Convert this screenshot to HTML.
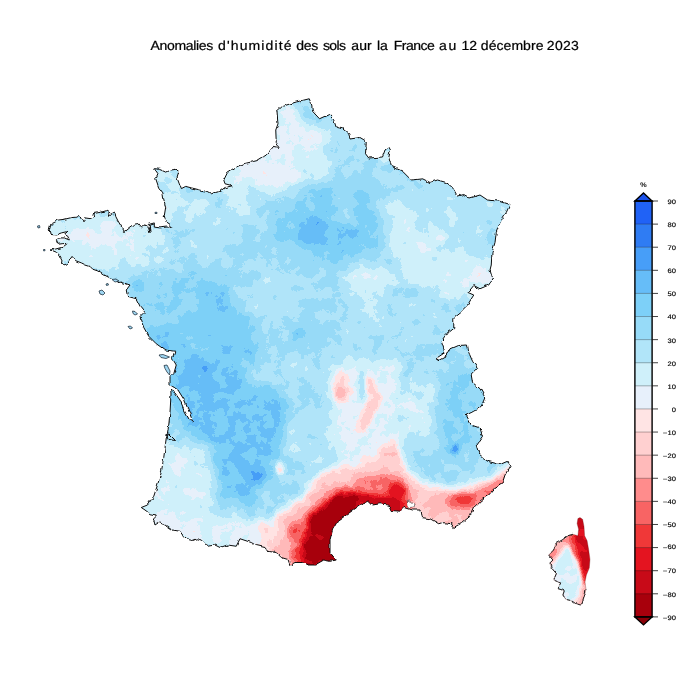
<!DOCTYPE html>
<html lang="fr"><head><meta charset="utf-8"><title>Anomalies d'humidité des sols</title>
<style>
html,body{margin:0;padding:0;background:#fff;}
body{width:700px;height:700px;overflow:hidden;font-family:"Liberation Sans",sans-serif;}
svg{display:block;}
text{text-rendering:geometricPrecision;}
.tk{font-family:"Liberation Sans",sans-serif;font-size:6.5px;fill:#000;stroke:#000;stroke-width:0.15px;}
.ttl{font-family:"Liberation Sans",sans-serif;font-size:13.1px;fill:#000;stroke:#000;stroke-width:0.22px;}
</style></head><body>
<svg width="700" height="700" viewBox="0 0 700 700">
<defs>
<filter id="b1_6" x="-60%" y="-60%" width="220%" height="220%" color-interpolation-filters="sRGB"><feGaussianBlur stdDeviation="1.6"/></filter>
<filter id="b1_8" x="-60%" y="-60%" width="220%" height="220%" color-interpolation-filters="sRGB"><feGaussianBlur stdDeviation="1.8"/></filter>
<filter id="b2" x="-60%" y="-60%" width="220%" height="220%" color-interpolation-filters="sRGB"><feGaussianBlur stdDeviation="2"/></filter>
<filter id="b2_2" x="-60%" y="-60%" width="220%" height="220%" color-interpolation-filters="sRGB"><feGaussianBlur stdDeviation="2.2"/></filter>
<filter id="b2_5" x="-60%" y="-60%" width="220%" height="220%" color-interpolation-filters="sRGB"><feGaussianBlur stdDeviation="2.5"/></filter>
<filter id="b3" x="-60%" y="-60%" width="220%" height="220%" color-interpolation-filters="sRGB"><feGaussianBlur stdDeviation="3"/></filter>
<filter id="b3_5" x="-60%" y="-60%" width="220%" height="220%" color-interpolation-filters="sRGB"><feGaussianBlur stdDeviation="3.5"/></filter>
<filter id="b4" x="-60%" y="-60%" width="220%" height="220%" color-interpolation-filters="sRGB"><feGaussianBlur stdDeviation="4"/></filter>
<filter id="b5" x="-60%" y="-60%" width="220%" height="220%" color-interpolation-filters="sRGB"><feGaussianBlur stdDeviation="5"/></filter>
<filter id="b6" x="-60%" y="-60%" width="220%" height="220%" color-interpolation-filters="sRGB"><feGaussianBlur stdDeviation="6"/></filter>
<filter id="b7" x="-60%" y="-60%" width="220%" height="220%" color-interpolation-filters="sRGB"><feGaussianBlur stdDeviation="7"/></filter>
<filter id="b9" x="-60%" y="-60%" width="220%" height="220%" color-interpolation-filters="sRGB"><feGaussianBlur stdDeviation="9"/></filter>
<filter id="b10" x="-60%" y="-60%" width="220%" height="220%" color-interpolation-filters="sRGB"><feGaussianBlur stdDeviation="10"/></filter>
<filter id="b11" x="-60%" y="-60%" width="220%" height="220%" color-interpolation-filters="sRGB"><feGaussianBlur stdDeviation="11"/></filter>
<filter id="post" filterUnits="userSpaceOnUse" x="0" y="0" width="700" height="700" color-interpolation-filters="sRGB">
<feTurbulence type="fractalNoise" baseFrequency="0.07" numOctaves="3" seed="7" result="n"/>
<feColorMatrix in="n" type="matrix" values="1 0 0 0 0  1 0 0 0 0  1 0 0 0 0  0 0 0 0 1" result="ng"/>
<feComposite in="SourceGraphic" in2="ng" operator="arithmetic" k1="0" k2="1" k3="0.14" k4="-0.07" result="f"/>
<feComponentTransfer in="f">
<feFuncR type="discrete" tableValues="0.6588 0.7843 0.8941 0.9412 0.9725 1.0000 1.0000 1.0000 1.0000 0.9059 0.8118 0.6941 0.5922 0.4902 0.4000 0.2784 0.1843 0.1255"/>
<feFuncG type="discrete" tableValues="0.0000 0.0392 0.0784 0.2196 0.3922 0.5490 0.7294 0.8157 0.8941 0.9412 0.9412 0.8980 0.8588 0.8157 0.7412 0.6196 0.4863 0.3843"/>
<feFuncB type="discrete" tableValues="0.0471 0.0941 0.1255 0.2196 0.3922 0.5490 0.7294 0.8157 0.8941 0.9843 0.9804 0.9765 0.9725 0.9725 0.9725 0.9725 0.9529 0.9647"/>
</feComponentTransfer>
</filter>
<filter id="jag" filterUnits="userSpaceOnUse" x="0" y="0" width="700" height="700" color-interpolation-filters="sRGB">
<feTurbulence type="fractalNoise" baseFrequency="0.16" numOctaves="2" seed="11" result="t"/>
<feDisplacementMap in="SourceGraphic" in2="t" scale="3.6" xChannelSelector="R" yChannelSelector="G"/>
</filter>
<clipPath id="fr"><path d="M309.25 98.75 L311.75 105.00 L312.50 111.25 L319.50 118.75 L328.75 114.50 L333.75 120.00 L336.25 127.50 L342.50 128.75 L348.75 133.75 L350.00 139.00 L360.00 137.50 L366.25 141.25 L365.50 153.75 L368.75 158.00 L382.50 157.00 L385.00 150.00 L388.75 147.00 L390.50 150.00 L388.75 157.50 L391.25 166.25 L402.50 171.25 L411.25 180.00 L422.50 178.75 L430.00 182.50 L437.50 180.00 L446.25 182.50 L452.50 187.50 L457.50 196.25 L463.75 194.50 L470.00 198.00 L480.00 195.00 L487.50 200.00 L500.00 201.25 L510.00 204.50 L506.25 212.50 L500.00 222.50 L496.25 232.50 L495.00 242.50 L492.00 252.50 L491.25 265.00 L490.00 270.00 L492.50 278.75 L488.75 285.00 L480.00 288.75 L473.75 285.50 L468.00 292.50 L473.75 295.00 L467.50 305.00 L460.00 312.50 L453.75 317.50 L453.75 327.50 L447.50 332.50 L441.25 341.25 L445.00 352.50 L437.50 357.50 L438.00 360.75 L446.25 356.25 L450.00 348.75 L457.50 345.50 L467.50 345.00 L468.75 352.50 L472.50 361.25 L477.50 368.75 L471.25 375.00 L472.50 382.50 L480.00 388.75 L485.00 397.50 L481.25 406.25 L473.75 411.25 L466.25 415.00 L471.25 425.00 L480.00 428.00 L482.50 436.25 L476.25 445.00 L478.75 453.75 L487.50 461.25 L500.00 464.50 L507.50 461.25 L510.00 466.25 L505.00 475.00 L502.50 482.50 L495.00 487.50 L488.75 495.00 L481.25 500.00 L473.75 507.50 L470.00 516.25 L462.50 522.50 L453.75 527.50 L451.25 523.75 L442.50 522.50 L438.75 523.75 L430.00 518.75 L421.25 517.50 L420.00 510.00 L412.50 510.00 L405.00 507.50 L401.25 511.25 L391.25 510.50 L388.75 505.00 L380.00 503.75 L372.50 505.00 L368.75 501.25 L363.75 502.50 L355.00 508.75 L346.25 515.00 L337.50 521.25 L332.50 530.00 L330.00 540.00 L330.00 552.50 L336.25 560.00 L330.00 561.25 L323.75 560.00 L315.00 565.00 L307.50 565.00 L302.50 562.50 L295.00 562.50 L290.00 565.00 L288.00 559.50 L281.25 557.50 L276.25 552.50 L267.50 551.25 L265.00 547.50 L256.25 545.50 L251.25 542.50 L240.00 538.75 L236.25 546.25 L227.50 545.00 L220.00 547.50 L215.00 545.00 L207.50 546.25 L201.25 540.00 L196.25 538.75 L190.00 541.25 L182.50 535.00 L180.00 531.25 L172.50 530.00 L165.00 525.00 L158.75 522.50 L155.00 525.00 L153.75 520.00 L156.25 515.00 L150.00 513.75 L145.00 510.00 L141.25 507.50 L147.50 505.00 L153.75 496.25 L157.50 485.00 L161.25 472.50 L163.75 457.50 L165.50 443.75 L166.25 438.00 L168.75 433.75 L175.50 440.50 L168.00 439.50 L167.00 436.00 L168.75 425.00 L170.00 412.50 L171.00 395.00 L170.75 390.00 L175.00 393.00 L180.00 400.00 L185.00 412.00 L189.50 420.00 L192.50 422.50 L191.25 417.50 L188.75 411.00 L184.25 400.00 L178.00 390.00 L172.00 386.00 L170.00 385.00 L170.00 377.50 L173.75 373.75 L176.25 365.00 L172.50 358.75 L175.00 351.25 L165.00 350.00 L156.25 343.75 L148.75 336.25 L143.75 327.50 L140.00 317.50 L145.00 312.50 L140.00 306.25 L136.25 298.75 L127.50 296.25 L126.25 290.00 L130.00 285.00 L121.40 282.10 L118.00 282.50 L115.70 279.30 L110.00 277.90 L104.30 275.00 L101.40 272.90 L97.10 270.70 L92.90 269.30 L90.00 266.40 L85.70 265.00 L81.40 262.90 L75.70 260.70 L72.10 256.40 L70.00 259.30 L67.90 263.60 L63.60 265.00 L61.40 263.60 L62.10 260.00 L60.00 255.70 L57.10 252.90 L50.00 250.00 L55.70 249.00 L62.90 247.10 L67.10 243.60 L62.90 243.60 L57.90 244.30 L56.40 240.70 L58.60 237.90 L64.30 237.90 L69.30 240.00 L67.90 236.40 L64.30 234.30 L67.90 231.40 L61.40 232.90 L55.70 235.00 L50.00 234.30 L49.30 229.30 L50.70 224.30 L55.00 222.10 L58.60 220.00 L64.30 219.30 L71.40 217.60 L77.10 217.10 L79.30 215.00 L81.40 219.30 L83.60 221.40 L85.00 217.90 L90.00 218.60 L93.60 217.10 L92.90 213.60 L97.10 212.90 L101.40 212.10 L106.40 210.70 L110.00 212.90 L109.30 216.40 L112.90 212.90 L115.00 212.10 L115.70 216.40 L117.90 220.70 L120.00 224.30 L124.30 231.40 L128.60 227.90 L133.60 224.30 L137.90 223.60 L141.40 227.90 L144.30 225.00 L147.90 225.70 L150.00 232.90 L149.30 224.30 L154.30 222.90 L154.30 227.10 L160.00 227.90 L167.10 227.10 L172.10 227.10 L170.00 224.30 L165.70 221.40 L164.30 215.70 L165.70 207.10 L163.60 198.60 L162.90 192.90 L158.60 187.10 L155.70 178.60 L157.90 173.60 L154.30 168.60 L159.30 169.30 L165.70 172.10 L170.00 170.00 L175.00 169.30 L178.60 172.10 L177.10 177.10 L179.30 182.90 L181.40 188.60 L185.70 186.40 L191.40 187.90 L200.00 190.00 L207.10 191.40 L211.25 193.75 L220.00 191.25 L225.00 187.50 L232.50 185.75 L225.00 183.75 L223.75 180.00 L227.50 172.50 L235.00 167.50 L243.75 163.75 L257.50 160.50 L266.25 155.00 L273.75 146.25 L279.50 147.50 L276.25 142.50 L275.75 130.00 L278.00 123.75 L277.00 111.25 L282.50 106.25 L296.25 102.00 Z"/></clipPath>
<clipPath id="co"><path d="M577.90 518.60 L580.00 517.60 L582.60 519.30 L584.00 526.40 L584.60 535.70 L587.10 540.70 L588.60 549.30 L590.00 559.30 L589.30 567.90 L586.40 575.00 L585.00 582.10 L586.00 589.30 L584.30 596.40 L582.10 603.60 L580.70 605.00 L575.70 603.60 L571.40 600.70 L565.70 599.30 L562.90 595.00 L564.30 590.70 L557.90 588.60 L560.70 582.90 L553.60 580.00 L556.40 573.60 L551.40 567.90 L550.00 562.90 L552.90 560.00 L548.60 555.00 L553.60 550.00 L555.70 543.60 L562.10 540.00 L567.90 535.70 L572.90 534.30 L577.90 535.70 L578.60 529.30 L577.10 523.60 Z"/></clipPath>
</defs>
<rect width="700" height="700" fill="#fff"/>
<g opacity="0.999"><text transform="translate(150.6 50.1) scale(1.07 1)" x="0" y="0" class="ttl" textLength="58.6" lengthAdjust="spacing">Anomalies</text><text transform="translate(218.1 50.1) scale(1.07 1)" x="0" y="0" class="ttl" textLength="68.6" lengthAdjust="spacing">d'humidité</text><text transform="translate(296.2 50.1) scale(1.07 1)" x="0" y="0" class="ttl" textLength="20.5" lengthAdjust="spacing">des</text><text transform="translate(323.0 50.1) scale(1.07 1)" x="0" y="0" class="ttl" textLength="21.5" lengthAdjust="spacing">sols</text><text transform="translate(351.3 50.1) scale(1.07 1)" x="0" y="0" class="ttl" textLength="19.1" lengthAdjust="spacing">aur</text><text transform="translate(377.0 50.1) scale(1.07 1)" x="0" y="0" class="ttl" textLength="10.1" lengthAdjust="spacing">la</text><text transform="translate(393.7 50.1) scale(1.07 1)" x="0" y="0" class="ttl" textLength="38.5" lengthAdjust="spacing">France</text><text transform="translate(439.0 50.1) scale(1.07 1)" x="0" y="0" class="ttl" textLength="16.2" lengthAdjust="spacing">au</text><text transform="translate(461.5 50.1) scale(1.07 1)" x="0" y="0" class="ttl" textLength="14.6" lengthAdjust="spacing">12</text><text transform="translate(480.8 50.1) scale(1.07 1)" x="0" y="0" class="ttl" textLength="58.6" lengthAdjust="spacing">décembre</text><text transform="translate(546.8 50.1) scale(1.07 1)" x="0" y="0" class="ttl" textLength="30.0" lengthAdjust="spacing">2023</text></g>
<g filter="url(#jag)">
<g clip-path="url(#fr)"><g filter="url(#post)">
<rect x="0" y="0" width="700" height="700" fill="rgb(171,171,171)"/>
<path d="M268.00 100.00 L292.00 100.00 L304.00 120.00 L337.00 132.00 L345.00 160.00 L327.00 176.00 L300.00 186.00 L282.00 197.00 L240.00 197.00 L220.00 192.00 L220.00 166.00 L250.00 150.00 Z" fill="rgb(149,149,149)" filter="url(#b6)"/>
<path d="M277.00 113.00 L288.00 109.00 L300.00 122.00 L313.00 129.00 L326.00 134.00 L331.00 147.00 L320.00 153.00 L307.00 148.00 L296.00 141.00 L290.00 150.00 L296.00 157.00 L298.00 170.00 L292.00 185.00 L275.00 188.00 L250.00 183.00 L232.00 181.00 L226.00 175.00 L235.00 166.00 L257.00 160.00 L270.00 152.00 L274.00 142.00 L275.00 125.00 Z" fill="rgb(137,137,137)" filter="url(#b4)"/>
<ellipse cx="385" cy="158" rx="10" ry="6" fill="rgb(142,142,142)" filter="url(#b3)"/>
<ellipse cx="166" cy="195" rx="14" ry="30" fill="rgb(150,150,150)" filter="url(#b4)"/>
<ellipse cx="238" cy="205" rx="13" ry="18" fill="rgb(150,150,150)" filter="url(#b5)"/>
<ellipse cx="345" cy="150" rx="22" ry="14" fill="rgb(164,164,164)" filter="url(#b5)"/>
<ellipse cx="100" cy="242" rx="62" ry="30" fill="rgb(147,147,147)" filter="url(#b7)"/>
<ellipse cx="105" cy="238" rx="36" ry="10" fill="rgb(137,137,137)" filter="url(#b5)"/>
<ellipse cx="205" cy="240" rx="26" ry="24" fill="rgb(162,162,162)" filter="url(#b6)"/>
<ellipse cx="195" cy="207" rx="22" ry="13" fill="rgb(153,153,153)" filter="url(#b5)"/>
<ellipse cx="150" cy="246" rx="20" ry="13" fill="rgb(152,152,152)" filter="url(#b5)"/>
<ellipse cx="335" cy="226" rx="58" ry="38" fill="rgb(191,191,191)" filter="url(#b10)"/>
<ellipse cx="312" cy="232" rx="16" ry="16" fill="rgb(204,204,204)" filter="url(#b5)"/>
<ellipse cx="342" cy="232" rx="14" ry="9" fill="rgb(201,201,201)" filter="url(#b5)"/>
<ellipse cx="345" cy="208" rx="6" ry="14" fill="rgb(162,162,162)" filter="url(#b4)"/>
<ellipse cx="455" cy="212" rx="58" ry="30" fill="rgb(160,160,160)" filter="url(#b9)"/>
<path d="M385.00 195.00 L405.00 205.00 L432.00 232.00 L462.00 248.00 L494.00 258.00 L496.00 294.00 L470.00 304.00 L440.00 300.00 L412.00 282.00 L392.00 256.00 L384.00 225.00 Z" fill="rgb(147,147,147)" filter="url(#b7)"/>
<ellipse cx="483" cy="275" rx="8" ry="11" fill="rgb(136,136,136)" filter="url(#b4)"/>
<ellipse cx="440" cy="240" rx="5" ry="3" fill="rgb(139,139,139)" filter="url(#b2_5)"/>
<ellipse cx="400" cy="322" rx="72" ry="28" fill="rgb(164,164,164)" filter="url(#b9)"/>
<ellipse cx="367" cy="310" rx="9" ry="11" fill="rgb(152,152,152)" filter="url(#b4)"/>
<ellipse cx="372" cy="280" rx="28" ry="20" fill="rgb(150,150,150)" filter="url(#b6)"/>
<ellipse cx="312" cy="330" rx="18" ry="14" fill="rgb(178,178,178)" filter="url(#b6)"/>
<ellipse cx="300" cy="333" rx="6" ry="6" fill="rgb(194,194,194)" filter="url(#b3)"/>
<ellipse cx="200" cy="345" rx="58" ry="70" fill="rgb(193,193,193)" filter="url(#b11)"/>
<ellipse cx="218" cy="400" rx="31" ry="31" fill="rgb(205,205,205)" filter="url(#b6)"/>
<ellipse cx="196" cy="378" rx="17" ry="22" fill="rgb(204,204,204)" filter="url(#b5)"/>
<ellipse cx="138" cy="288" rx="7" ry="7" fill="rgb(207,207,207)" filter="url(#b3)"/>
<ellipse cx="270" cy="298" rx="30" ry="24" fill="rgb(163,163,163)" filter="url(#b6)"/>
<ellipse cx="292" cy="372" rx="40" ry="13" fill="rgb(163,163,163)" filter="url(#b6)"/>
<ellipse cx="170" cy="300" rx="30" ry="20" fill="rgb(181,181,181)" filter="url(#b7)"/>
<path d="M174.00 388.00 L283.00 388.00 L289.00 433.00 L274.00 464.00 L266.00 484.00 L254.00 505.00 L226.00 500.00 L214.00 476.00 L209.00 447.00 L183.00 433.00 Z" fill="rgb(198,198,198)" filter="url(#b6)"/>
<ellipse cx="252" cy="474" rx="12" ry="9" fill="rgb(212,212,212)" filter="url(#b4)"/>
<path d="M160.00 441.00 L200.00 445.00 L214.00 470.00 L214.00 505.00 L190.00 513.00 L140.00 508.00 L155.00 470.00 Z" fill="rgb(146,146,146)" filter="url(#b5)"/>
<path d="M135.00 508.00 L190.00 512.00 L230.00 516.00 L266.00 520.00 L272.00 552.00 L240.00 548.00 L200.00 548.00 L150.00 530.00 Z" fill="rgb(140,140,140)" filter="url(#b4)"/>
<ellipse cx="175" cy="520" rx="22" ry="6" fill="rgb(133,133,133)" filter="url(#b3)"/>
<ellipse cx="310" cy="440" rx="25" ry="30" fill="rgb(162,162,162)" filter="url(#b6)"/>
<ellipse cx="280" cy="468" rx="3.5" ry="7" fill="rgb(123,123,123)" filter="url(#b2_2)"/>
<path d="M330.00 360.00 L400.00 360.00 L402.00 430.00 L395.00 477.00 L342.00 477.00 L330.00 430.00 Z" fill="rgb(140,140,140)" filter="url(#b7)"/>
<ellipse cx="420" cy="410" rx="20" ry="33" fill="rgb(147,147,147)" filter="url(#b6)"/>
<ellipse cx="342" cy="388" rx="9" ry="17" fill="rgb(109,109,109)" filter="url(#b3)"/>
<ellipse cx="340" cy="392" rx="5" ry="6" fill="rgb(94,94,94)" filter="url(#b2)"/>
<ellipse cx="362" cy="386" rx="3.5" ry="16" fill="rgb(173,173,173)" filter="url(#b2)"/>
<path d="M365.00 376.00 L373.00 378.00 L378.00 392.00 L384.00 399.00 L376.00 412.00 L364.00 434.00 L355.00 432.00 L360.00 414.00 L370.00 402.00 L367.00 392.00 Z" fill="rgb(108,108,108)" filter="url(#b2_2)"/>
<ellipse cx="458" cy="412" rx="21" ry="48" fill="rgb(184,184,184)" filter="url(#b7)"/>
<ellipse cx="455" cy="407" rx="6" ry="7" fill="rgb(205,205,205)" filter="url(#b3)"/>
<ellipse cx="455" cy="449" rx="4" ry="5" fill="rgb(230,230,230)" filter="url(#b2_5)"/>
<ellipse cx="263" cy="536" rx="9" ry="15" fill="rgb(122,122,122)" filter="url(#b4)"/>
<path d="M266.00 554.00 L272.00 523.00 L284.00 508.00 L301.00 499.00 L315.00 478.00 L335.00 466.00 L360.00 466.00 L380.00 452.00 L393.00 438.00 L400.00 455.00 L410.00 475.00 L430.00 486.00 L455.00 488.00 L480.00 483.00 L500.00 471.00 L515.00 462.00 L525.00 480.00 L470.00 545.00 L400.00 530.00 L340.00 540.00 L340.00 580.00 L280.00 580.00 Z" fill="rgb(102,102,102)" filter="url(#b5)"/>
<path d="M389.00 472.00 L391.00 452.00 L394.00 435.00 L397.00 452.00 L401.00 472.00 Z" fill="rgb(105,105,105)" filter="url(#b2)"/>
<path d="M287.00 542.00 L292.00 525.00 L305.00 512.00 L318.00 497.00 L338.00 487.00 L365.00 479.00 L392.00 471.00 L404.00 482.00 L412.00 498.00 L412.00 520.00 L345.00 530.00 L340.00 580.00 L292.00 580.00 Z" fill="rgb(71,71,71)" filter="url(#b3_5)"/>
<path d="M441.00 497.00 L455.00 494.00 L478.00 491.00 L492.00 484.00 L504.00 488.00 L490.00 501.00 L478.00 509.00 L465.00 511.00 L446.00 508.00 Z" fill="rgb(74,74,74)" filter="url(#b3)"/>
<path d="M388.00 484.00 L400.00 480.00 L405.00 490.00 L404.00 507.00 L388.00 507.00 Z" fill="rgb(40,40,40)" filter="url(#b2_5)"/>
<path d="M297.00 556.00 L302.00 538.00 L308.00 515.00 L322.00 503.00 L337.00 494.00 L352.00 491.00 L372.00 495.00 L395.00 497.00 L408.00 501.00 L408.00 516.00 L370.00 512.00 L345.00 530.00 L340.00 580.00 L300.00 580.00 Z" fill="rgb(35,35,35)" filter="url(#b3)"/>
<ellipse cx="464" cy="500" rx="15" ry="5" fill="rgb(50,50,50)" filter="url(#b3)"/>
<path d="M478.00 493.00 L490.00 486.00 L500.00 479.00 L506.00 472.00 L511.00 478.00 L502.00 492.00 L486.00 501.00 Z" fill="rgb(68,68,68)" filter="url(#b2_5)"/>
<path d="M360.00 497.00 L380.00 496.00 L402.00 503.00 L404.00 515.00 L370.00 510.00 Z" fill="rgb(17,17,17)" filter="url(#b2_5)"/>
<path d="M303.00 568.00 L305.00 542.00 L311.00 517.00 L326.00 506.00 L338.00 495.00 L352.00 493.00 L362.00 498.00 L356.00 510.00 L345.00 520.00 L336.00 535.00 L338.00 570.00 L320.00 574.00 Z" fill="rgb(7,7,7)" filter="url(#b2)"/>
<ellipse cx="296" cy="533" rx="8" ry="7" fill="rgb(57,57,57)" filter="url(#b2_5)"/>
</g></g>
<path d="M406.50 501.00 L410.00 500.00 L412.00 503.00 L415.00 504.00 L414.00 507.00 L409.00 507.50 L407.00 505.00 Z" fill="#fff" stroke="#222" stroke-width="0.5"/>
<path d="M309.25 98.75 L311.75 105.00 L312.50 111.25 L319.50 118.75 L328.75 114.50 L333.75 120.00 L336.25 127.50 L342.50 128.75 L348.75 133.75 L350.00 139.00 L360.00 137.50 L366.25 141.25 L365.50 153.75 L368.75 158.00 L382.50 157.00 L385.00 150.00 L388.75 147.00 L390.50 150.00 L388.75 157.50 L391.25 166.25 L402.50 171.25 L411.25 180.00 L422.50 178.75 L430.00 182.50 L437.50 180.00 L446.25 182.50 L452.50 187.50 L457.50 196.25 L463.75 194.50 L470.00 198.00 L480.00 195.00 L487.50 200.00 L500.00 201.25 L510.00 204.50 L506.25 212.50 L500.00 222.50 L496.25 232.50 L495.00 242.50 L492.00 252.50 L491.25 265.00 L490.00 270.00 L492.50 278.75 L488.75 285.00 L480.00 288.75 L473.75 285.50 L468.00 292.50 L473.75 295.00 L467.50 305.00 L460.00 312.50 L453.75 317.50 L453.75 327.50 L447.50 332.50 L441.25 341.25 L445.00 352.50 L437.50 357.50 L438.00 360.75 L446.25 356.25 L450.00 348.75 L457.50 345.50 L467.50 345.00 L468.75 352.50 L472.50 361.25 L477.50 368.75 L471.25 375.00 L472.50 382.50 L480.00 388.75 L485.00 397.50 L481.25 406.25 L473.75 411.25 L466.25 415.00 L471.25 425.00 L480.00 428.00 L482.50 436.25 L476.25 445.00 L478.75 453.75 L487.50 461.25 L500.00 464.50 L507.50 461.25 L510.00 466.25 L505.00 475.00 L502.50 482.50 L495.00 487.50 L488.75 495.00 L481.25 500.00 L473.75 507.50 L470.00 516.25 L462.50 522.50 L453.75 527.50 L451.25 523.75 L442.50 522.50 L438.75 523.75 L430.00 518.75 L421.25 517.50 L420.00 510.00 L412.50 510.00 L405.00 507.50 L401.25 511.25 L391.25 510.50 L388.75 505.00 L380.00 503.75 L372.50 505.00 L368.75 501.25 L363.75 502.50 L355.00 508.75 L346.25 515.00 L337.50 521.25 L332.50 530.00 L330.00 540.00 L330.00 552.50 L336.25 560.00 L330.00 561.25 L323.75 560.00 L315.00 565.00 L307.50 565.00 L302.50 562.50 L295.00 562.50 L290.00 565.00 L288.00 559.50 L281.25 557.50 L276.25 552.50 L267.50 551.25 L265.00 547.50 L256.25 545.50 L251.25 542.50 L240.00 538.75 L236.25 546.25 L227.50 545.00 L220.00 547.50 L215.00 545.00 L207.50 546.25 L201.25 540.00 L196.25 538.75 L190.00 541.25 L182.50 535.00 L180.00 531.25 L172.50 530.00 L165.00 525.00 L158.75 522.50 L155.00 525.00 L153.75 520.00 L156.25 515.00 L150.00 513.75 L145.00 510.00 L141.25 507.50 L147.50 505.00 L153.75 496.25 L157.50 485.00 L161.25 472.50 L163.75 457.50 L165.50 443.75 L166.25 438.00 L168.75 433.75 L175.50 440.50 L168.00 439.50 L167.00 436.00 L168.75 425.00 L170.00 412.50 L171.00 395.00 L170.75 390.00 L175.00 393.00 L180.00 400.00 L185.00 412.00 L189.50 420.00 L192.50 422.50 L191.25 417.50 L188.75 411.00 L184.25 400.00 L178.00 390.00 L172.00 386.00 L170.00 385.00 L170.00 377.50 L173.75 373.75 L176.25 365.00 L172.50 358.75 L175.00 351.25 L165.00 350.00 L156.25 343.75 L148.75 336.25 L143.75 327.50 L140.00 317.50 L145.00 312.50 L140.00 306.25 L136.25 298.75 L127.50 296.25 L126.25 290.00 L130.00 285.00 L121.40 282.10 L118.00 282.50 L115.70 279.30 L110.00 277.90 L104.30 275.00 L101.40 272.90 L97.10 270.70 L92.90 269.30 L90.00 266.40 L85.70 265.00 L81.40 262.90 L75.70 260.70 L72.10 256.40 L70.00 259.30 L67.90 263.60 L63.60 265.00 L61.40 263.60 L62.10 260.00 L60.00 255.70 L57.10 252.90 L50.00 250.00 L55.70 249.00 L62.90 247.10 L67.10 243.60 L62.90 243.60 L57.90 244.30 L56.40 240.70 L58.60 237.90 L64.30 237.90 L69.30 240.00 L67.90 236.40 L64.30 234.30 L67.90 231.40 L61.40 232.90 L55.70 235.00 L50.00 234.30 L49.30 229.30 L50.70 224.30 L55.00 222.10 L58.60 220.00 L64.30 219.30 L71.40 217.60 L77.10 217.10 L79.30 215.00 L81.40 219.30 L83.60 221.40 L85.00 217.90 L90.00 218.60 L93.60 217.10 L92.90 213.60 L97.10 212.90 L101.40 212.10 L106.40 210.70 L110.00 212.90 L109.30 216.40 L112.90 212.90 L115.00 212.10 L115.70 216.40 L117.90 220.70 L120.00 224.30 L124.30 231.40 L128.60 227.90 L133.60 224.30 L137.90 223.60 L141.40 227.90 L144.30 225.00 L147.90 225.70 L150.00 232.90 L149.30 224.30 L154.30 222.90 L154.30 227.10 L160.00 227.90 L167.10 227.10 L172.10 227.10 L170.00 224.30 L165.70 221.40 L164.30 215.70 L165.70 207.10 L163.60 198.60 L162.90 192.90 L158.60 187.10 L155.70 178.60 L157.90 173.60 L154.30 168.60 L159.30 169.30 L165.70 172.10 L170.00 170.00 L175.00 169.30 L178.60 172.10 L177.10 177.10 L179.30 182.90 L181.40 188.60 L185.70 186.40 L191.40 187.90 L200.00 190.00 L207.10 191.40 L211.25 193.75 L220.00 191.25 L225.00 187.50 L232.50 185.75 L225.00 183.75 L223.75 180.00 L227.50 172.50 L235.00 167.50 L243.75 163.75 L257.50 160.50 L266.25 155.00 L273.75 146.25 L279.50 147.50 L276.25 142.50 L275.75 130.00 L278.00 123.75 L277.00 111.25 L282.50 106.25 L296.25 102.00 Z" fill="none" stroke="#0c0c0c" stroke-width="1" stroke-linejoin="round"/>
</g>
<g fill="#9fd6f2" stroke="#10202c" stroke-width="0.7"><path d="M99.00 291.00 L102.00 290.00 L105.00 293.00 L103.00 295.00 L100.00 294.00 Z"/>
<path d="M132.50 311.00 L135.00 311.50 L137.50 314.00 L135.00 315.00 L133.00 313.50 Z"/>
<path d="M128.00 326.50 L130.50 326.00 L132.50 328.00 L130.00 329.00 Z"/>
<path d="M159.00 355.00 L163.00 354.50 L169.50 357.00 L166.00 358.50 L161.00 357.50 Z"/>
<path d="M164.00 365.50 L167.00 365.00 L170.00 371.00 L169.50 375.00 L167.00 372.00 L165.00 368.50 Z"/>
<path d="M37.50 226.00 L39.50 225.50 L40.00 227.50 L38.00 228.00 Z"/>
<path d="M112.00 279.50 L116.00 279.00 L119.00 281.00 L115.00 282.00 Z"/>
<path d="M43.50 249.50 L45.00 249.50 L45.00 250.80 L43.50 250.80 Z"/>
<path d="M155.00 212.30 L157.00 212.30 L157.00 213.50 L155.00 213.50 Z"/>
<path d="M106.00 284.00 L108.00 283.50 L108.50 285.00 L106.50 285.50 Z"/></g>
<g clip-path="url(#co)"><g filter="url(#post)">
<rect x="520" y="500" width="100" height="120" fill="rgb(144,144,144)"/>
<path d="M546.00 548.00 L556.00 540.00 L568.00 533.00 L580.00 533.00 L580.00 545.00 L566.00 546.00 L558.00 556.00 L552.00 566.00 L546.00 562.00 Z" fill="rgb(82,82,82)" filter="url(#b2_5)"/>
<path d="M571.00 607.00 L588.00 607.00 L588.00 582.00 L582.00 585.00 L579.00 597.00 Z" fill="rgb(88,88,88)" filter="url(#b2_5)"/>
<path d="M568.00 534.00 L592.00 534.00 L594.00 582.00 L583.00 586.00 L578.00 562.00 L571.00 552.00 Z" fill="rgb(57,57,57)" filter="url(#b1_6)"/>
<path d="M575.00 515.00 L586.00 515.00 L592.00 545.00 L593.00 574.00 L585.00 582.00 L581.00 560.00 L575.00 542.00 Z" fill="rgb(26,26,26)" filter="url(#b1_8)"/>
</g></g>
<path d="M577.90 518.60 L580.00 517.60 L582.60 519.30 L584.00 526.40 L584.60 535.70 L587.10 540.70 L588.60 549.30 L590.00 559.30 L589.30 567.90 L586.40 575.00 L585.00 582.10 L586.00 589.30 L584.30 596.40 L582.10 603.60 L580.70 605.00 L575.70 603.60 L571.40 600.70 L565.70 599.30 L562.90 595.00 L564.30 590.70 L557.90 588.60 L560.70 582.90 L553.60 580.00 L556.40 573.60 L551.40 567.90 L550.00 562.90 L552.90 560.00 L548.60 555.00 L553.60 550.00 L555.70 543.60 L562.10 540.00 L567.90 535.70 L572.90 534.30 L577.90 535.70 L578.60 529.30 L577.10 523.60 Z" fill="none" stroke="#5a1010" stroke-opacity="0.5" stroke-width="0.6" stroke-linejoin="round"/>
<g filter="url(#jag)"><path d="M586.00 589.30 L584.30 596.40 L582.10 603.60 L580.70 605.00 L575.70 603.60 L571.40 600.70 L565.70 599.30 L562.90 595.00 L564.30 590.70 L557.90 588.60 L560.70 582.90 L553.60 580.00 L556.40 573.60 L551.40 567.90 L550.00 562.90 L552.90 560.00 L548.60 555.00 L553.60 550.00 L555.70 543.60 L562.10 540.00 L567.90 535.70 L572.90 534.30" fill="none" stroke="#111" stroke-width="0.9" stroke-linejoin="round"/></g>
<g opacity="0.999">
<rect x="634.9" y="201.00" width="17.2" height="23.41" fill="#2062F6"/>
<rect x="634.9" y="224.11" width="17.2" height="23.41" fill="#2F7CF3"/>
<rect x="634.9" y="247.21" width="17.2" height="23.41" fill="#479EF8"/>
<rect x="634.9" y="270.32" width="17.2" height="23.41" fill="#66BDF8"/>
<rect x="634.9" y="293.42" width="17.2" height="23.41" fill="#7DD0F8"/>
<rect x="634.9" y="316.53" width="17.2" height="23.41" fill="#97DBF8"/>
<rect x="634.9" y="339.63" width="17.2" height="23.41" fill="#B1E5F9"/>
<rect x="634.9" y="362.74" width="17.2" height="23.41" fill="#CFF0FA"/>
<rect x="634.9" y="385.84" width="17.2" height="23.41" fill="#E7F0FB"/>
<rect x="634.9" y="408.95" width="17.2" height="23.41" fill="#FFE4E4"/>
<rect x="634.9" y="432.06" width="17.2" height="23.41" fill="#FFD0D0"/>
<rect x="634.9" y="455.16" width="17.2" height="23.41" fill="#FFBABA"/>
<rect x="634.9" y="478.27" width="17.2" height="23.41" fill="#FF8C8C"/>
<rect x="634.9" y="501.37" width="17.2" height="23.41" fill="#F86464"/>
<rect x="634.9" y="524.48" width="17.2" height="23.41" fill="#F03838"/>
<rect x="634.9" y="547.58" width="17.2" height="23.41" fill="#E41420"/>
<rect x="634.9" y="570.69" width="17.2" height="23.41" fill="#C80A18"/>
<rect x="634.9" y="593.79" width="17.2" height="23.41" fill="#A8000C"/>
<line x1="634.9" y1="224.11" x2="652.1" y2="224.11" stroke="#000" stroke-opacity="0.5" stroke-width="0.6"/>
<line x1="634.9" y1="247.21" x2="652.1" y2="247.21" stroke="#000" stroke-opacity="0.5" stroke-width="0.6"/>
<line x1="634.9" y1="270.32" x2="652.1" y2="270.32" stroke="#000" stroke-opacity="0.5" stroke-width="0.6"/>
<line x1="634.9" y1="293.42" x2="652.1" y2="293.42" stroke="#000" stroke-opacity="0.5" stroke-width="0.6"/>
<line x1="634.9" y1="316.53" x2="652.1" y2="316.53" stroke="#000" stroke-opacity="0.5" stroke-width="0.6"/>
<line x1="634.9" y1="339.63" x2="652.1" y2="339.63" stroke="#000" stroke-opacity="0.5" stroke-width="0.6"/>
<line x1="634.9" y1="362.74" x2="652.1" y2="362.74" stroke="#000" stroke-opacity="0.5" stroke-width="0.6"/>
<line x1="634.9" y1="385.84" x2="652.1" y2="385.84" stroke="#000" stroke-opacity="0.5" stroke-width="0.6"/>
<line x1="634.9" y1="408.95" x2="652.1" y2="408.95" stroke="#000" stroke-opacity="0.5" stroke-width="0.6"/>
<line x1="634.9" y1="432.06" x2="652.1" y2="432.06" stroke="#000" stroke-opacity="0.5" stroke-width="0.6"/>
<line x1="634.9" y1="455.16" x2="652.1" y2="455.16" stroke="#000" stroke-opacity="0.5" stroke-width="0.6"/>
<line x1="634.9" y1="478.27" x2="652.1" y2="478.27" stroke="#000" stroke-opacity="0.5" stroke-width="0.6"/>
<line x1="634.9" y1="501.37" x2="652.1" y2="501.37" stroke="#000" stroke-opacity="0.5" stroke-width="0.6"/>
<line x1="634.9" y1="524.48" x2="652.1" y2="524.48" stroke="#000" stroke-opacity="0.5" stroke-width="0.6"/>
<line x1="634.9" y1="547.58" x2="652.1" y2="547.58" stroke="#000" stroke-opacity="0.5" stroke-width="0.6"/>
<line x1="634.9" y1="570.69" x2="652.1" y2="570.69" stroke="#000" stroke-opacity="0.5" stroke-width="0.6"/>
<line x1="634.9" y1="593.79" x2="652.1" y2="593.79" stroke="#000" stroke-opacity="0.5" stroke-width="0.6"/>
<path d="M634.9 201 L643.5 192.9 L652.1 201 Z" fill="#1C52EA" stroke="#000" stroke-width="1.4" stroke-linejoin="miter"/>
<path d="M634.9 616.9 L643.5 624.9 L652.1 616.9 Z" fill="#8A0008" stroke="#000" stroke-width="1.4" stroke-linejoin="miter"/>
<rect x="634.9" y="201" width="17.2" height="415.9" fill="none" stroke="#000" stroke-width="1.4"/>
<line x1="652.1" y1="201.00" x2="658" y2="201.00" stroke="#111" stroke-width="0.8"/>
<text transform="translate(676 203.75) scale(1.17 1)" x="0" y="0" text-anchor="end" class="tk">90</text>
<line x1="652.1" y1="224.11" x2="658" y2="224.11" stroke="#111" stroke-width="0.8"/>
<text transform="translate(676 226.75) scale(1.17 1)" x="0" y="0" text-anchor="end" class="tk">80</text>
<line x1="652.1" y1="247.21" x2="658" y2="247.21" stroke="#111" stroke-width="0.8"/>
<text transform="translate(676 249.95) scale(1.17 1)" x="0" y="0" text-anchor="end" class="tk">70</text>
<line x1="652.1" y1="270.32" x2="658" y2="270.32" stroke="#111" stroke-width="0.8"/>
<text transform="translate(676 272.75) scale(1.17 1)" x="0" y="0" text-anchor="end" class="tk">60</text>
<line x1="652.1" y1="293.42" x2="658" y2="293.42" stroke="#111" stroke-width="0.8"/>
<text transform="translate(676 295.65) scale(1.17 1)" x="0" y="0" text-anchor="end" class="tk">50</text>
<line x1="652.1" y1="316.53" x2="658" y2="316.53" stroke="#111" stroke-width="0.8"/>
<text transform="translate(676 319.45) scale(1.17 1)" x="0" y="0" text-anchor="end" class="tk">40</text>
<line x1="652.1" y1="339.63" x2="658" y2="339.63" stroke="#111" stroke-width="0.8"/>
<text transform="translate(676 342.65) scale(1.17 1)" x="0" y="0" text-anchor="end" class="tk">30</text>
<line x1="652.1" y1="362.74" x2="658" y2="362.74" stroke="#111" stroke-width="0.8"/>
<text transform="translate(676 365.95) scale(1.17 1)" x="0" y="0" text-anchor="end" class="tk">20</text>
<line x1="652.1" y1="385.84" x2="658" y2="385.84" stroke="#111" stroke-width="0.8"/>
<text transform="translate(676 388.75) scale(1.17 1)" x="0" y="0" text-anchor="end" class="tk">10</text>
<line x1="652.1" y1="408.95" x2="658" y2="408.95" stroke="#111" stroke-width="0.8"/>
<text transform="translate(676 411.65) scale(1.17 1)" x="0" y="0" text-anchor="end" class="tk">0</text>
<line x1="652.1" y1="432.06" x2="658" y2="432.06" stroke="#111" stroke-width="0.8"/>
<text transform="translate(676 434.75) scale(1.17 1)" x="0" y="0" text-anchor="end" class="tk">10</text>
<line x1="663.1" y1="433.00" x2="667" y2="433.00" stroke="#111" stroke-width="0.6"/>
<line x1="652.1" y1="455.16" x2="658" y2="455.16" stroke="#111" stroke-width="0.8"/>
<text transform="translate(676 458.05) scale(1.17 1)" x="0" y="0" text-anchor="end" class="tk">20</text>
<line x1="663.1" y1="456.30" x2="667" y2="456.30" stroke="#111" stroke-width="0.6"/>
<line x1="652.1" y1="478.27" x2="658" y2="478.27" stroke="#111" stroke-width="0.8"/>
<text transform="translate(676 480.95) scale(1.17 1)" x="0" y="0" text-anchor="end" class="tk">30</text>
<line x1="663.1" y1="479.20" x2="667" y2="479.20" stroke="#111" stroke-width="0.6"/>
<line x1="652.1" y1="501.37" x2="658" y2="501.37" stroke="#111" stroke-width="0.8"/>
<text transform="translate(676 503.75) scale(1.17 1)" x="0" y="0" text-anchor="end" class="tk">40</text>
<line x1="663.1" y1="502.00" x2="667" y2="502.00" stroke="#111" stroke-width="0.6"/>
<line x1="652.1" y1="524.48" x2="658" y2="524.48" stroke="#111" stroke-width="0.8"/>
<text transform="translate(676 526.65) scale(1.17 1)" x="0" y="0" text-anchor="end" class="tk">50</text>
<line x1="663.1" y1="524.90" x2="667" y2="524.90" stroke="#111" stroke-width="0.6"/>
<line x1="652.1" y1="547.58" x2="658" y2="547.58" stroke="#111" stroke-width="0.8"/>
<text transform="translate(676 549.45) scale(1.17 1)" x="0" y="0" text-anchor="end" class="tk">60</text>
<line x1="663.1" y1="547.70" x2="667" y2="547.70" stroke="#111" stroke-width="0.6"/>
<line x1="652.1" y1="570.69" x2="658" y2="570.69" stroke="#111" stroke-width="0.8"/>
<text transform="translate(676 572.75) scale(1.17 1)" x="0" y="0" text-anchor="end" class="tk">70</text>
<line x1="663.1" y1="571.00" x2="667" y2="571.00" stroke="#111" stroke-width="0.6"/>
<line x1="652.1" y1="593.79" x2="658" y2="593.79" stroke="#111" stroke-width="0.8"/>
<text transform="translate(676 596.95) scale(1.17 1)" x="0" y="0" text-anchor="end" class="tk">80</text>
<line x1="663.1" y1="595.20" x2="667" y2="595.20" stroke="#111" stroke-width="0.6"/>
<line x1="652.1" y1="616.90" x2="658" y2="616.90" stroke="#111" stroke-width="0.8"/>
<text transform="translate(676 619.95) scale(1.17 1)" x="0" y="0" text-anchor="end" class="tk">90</text>
<line x1="663.1" y1="618.20" x2="667" y2="618.20" stroke="#111" stroke-width="0.6"/>
<text transform="translate(643.5 187) scale(1.1 1)" x="0" y="0" text-anchor="middle" class="tk">%</text>
</g>
</svg>
</body></html>
